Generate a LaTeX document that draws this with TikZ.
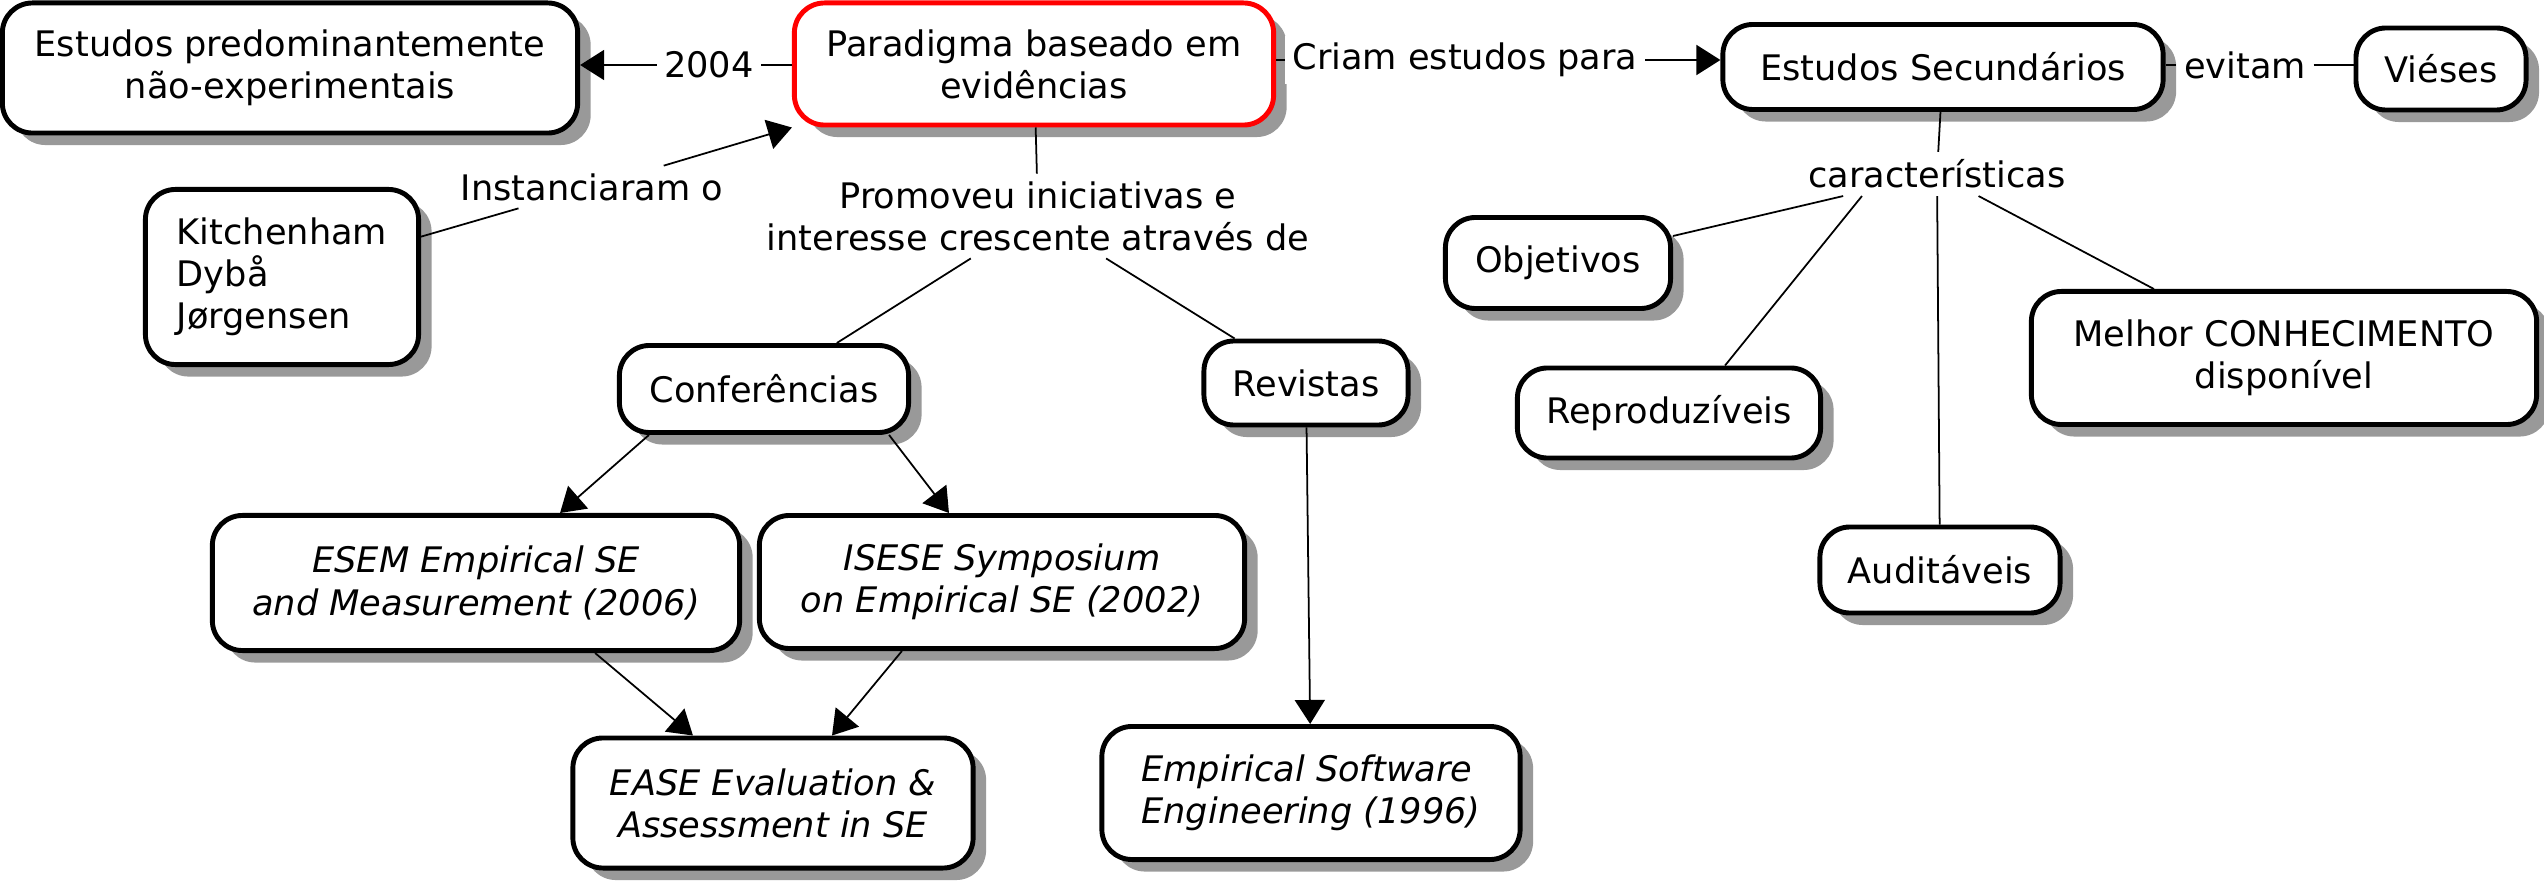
\documentclass[tikz,border=0pt]{standalone}
\usepackage{fontspec}
\setmainfont{DejaVu Sans}
\usetikzlibrary{arrows.meta,positioning,shadows}

\begin{document}
\begin{tikzpicture}[
  x=0.01cm, y=-0.01cm,
  concept/.style={draw, line width=1.4pt, rounded corners=0.3cm, fill=white, align=center, inner sep=0pt,
    drop shadow={shadow xshift=0.13cm, shadow yshift=-0.12cm, fill=black!40, opacity=1}},
  mainconcept/.style={concept, draw=red},
  lbl/.style={fill=white, inner sep=2pt, align=center},
  link/.style={line width=0.5pt},
  arr/.style={link, -{Triangle[length=0.24cm, width=0.3cm]}}
]
\useasboundingbox (0,0) rectangle (2544,885);

% concepts
\node[concept, minimum width=5.75cm, minimum height=1.3cm] (estpred) at (290,68) {Estudos predominantemente\\não-experimentais};
\node[mainconcept, minimum width=4.79cm, minimum height=1.22cm] (parad) at (1034,64) {Paradigma baseado em\\evidências};
\node[concept, align=left, minimum width=2.73cm, minimum height=1.75cm] (kitch) at (282,277) {Kitchenham\\Dybå\\Jørgensen};
\node[concept, minimum width=2.89cm, minimum height=0.87cm] (conf) at (764,389) {Conferências};
\node[concept, minimum width=2.04cm, minimum height=0.84cm] (rev) at (1306,383) {Revistas};
\node[concept, font=\itshape, minimum width=5.27cm, minimum height=1.35cm] (esem) at (476,583) {ESEM Empirical SE\\and Measurement (2006)};
\node[concept, font=\itshape, minimum width=4.85cm, minimum height=1.33cm] (isese) at (1002,582) {ISESE Symposium\\on Empirical SE (2002)};
\node[concept, font=\itshape, minimum width=4cm, minimum height=1.3cm] (ease) at (773,803) {EASE Evaluation \&\\Assessment in SE};
\node[concept, font=\itshape, align=left, minimum width=4.18cm, minimum height=1.33cm] (emp) at (1311,793) {Empirical Software\\Engineering (1996)};
\node[concept, minimum width=4.4cm, minimum height=0.85cm] (estsec) at (1943,67) {Estudos Secundários};
\node[concept, minimum width=1.7cm, minimum height=0.82cm] (vies) at (2441,69) {Viéses};
\node[concept, minimum width=2.25cm, minimum height=0.91cm] (obj) at (1558,263) {Objetivos};
\node[concept, minimum width=3.03cm, minimum height=0.9cm] (repro) at (1669,413) {Reproduzíveis};
\node[concept, minimum width=2.4cm, minimum height=0.86cm] (aud) at (1940,570) {Auditáveis};
\node[concept, minimum width=5.05cm, minimum height=1.33cm] (melhor) at (2284,358) {Melhor CONHECIMENTO\\disponível};

% linking phrases
\node[lbl] (l2004) at (709,65) {2004};
\node[lbl] (linst) at (592,187) {Instanciaram o};
\node[lbl] (lprom) at (1038,216) {Promoveu iniciativas e\\interesse crescente através de};
\node[lbl] (lcriam) at (1465,60) {Criam estudos para};
\node[lbl] (levitam) at (2245,65) {evitam};
\node[lbl] (lcar) at (1937,174) {características};

% connections
\draw[link] (parad.west |- l2004) -- (l2004);
\draw[arr] (l2004) -- (l2004 -| estpred.east);
\draw[link] (kitch) -- (linst);
\draw[arr] (linst) -- (parad.south west);
\draw[link] (parad) -- (lprom);
\draw[link] (lprom) -- (conf);
\draw[link] (lprom) -- (rev);
\draw[arr] ([xshift=-1.15cm]conf.south) -- ([xshift=0.84cm]esem.north);
\draw[arr] ([xshift=1.25cm]conf.south) -- ([xshift=-0.53cm]isese.north);
\draw[arr] ([xshift=1.19cm]esem.south) -- ([xshift=-0.8cm]ease.north);
\draw[arr] ([xshift=-1cm]isese.south) -- ([xshift=0.59cm]ease.north);
\draw[arr] (rev) -- (emp);
\draw[link] (parad.east |- lcriam) -- (lcriam);
\draw[arr] (lcriam) -- (lcriam -| estsec.west);
\draw[link] (estsec.east |- levitam) -- (levitam);
\draw[link] (levitam) -- (levitam -| vies.west);
\draw[link] (estsec) -- (lcar);
\draw[link] (lcar) -- (obj);
\draw[link] ([xshift=-0.75cm]lcar.south) -- ([xshift=0.56cm]repro.north);
\draw[link] (lcar) -- (aud);
\draw[link] (lcar) -- (melhor);

\end{tikzpicture}
\end{document}
